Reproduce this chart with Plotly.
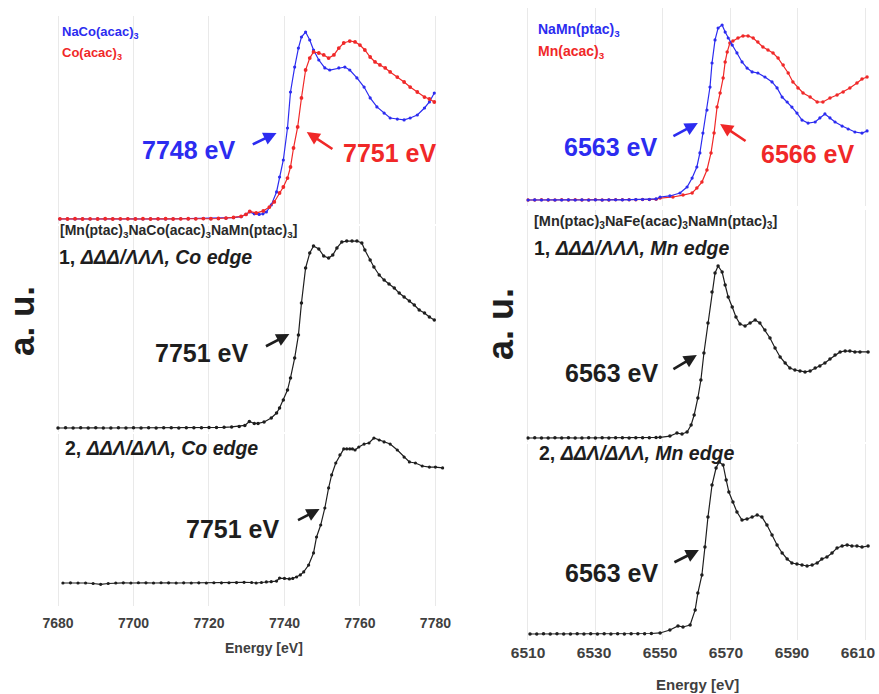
import plotly.graph_objects as go

FONT = "Liberation Sans, Arial, sans-serif"
BLUE = "#2c2cf0"
RED = "#f02828"
BLACK = "#1e1e1e"
GREY_TXT = "#404040"

# ---------------- Co K-edge (left column) ----------------
co_ticks = [7680, 7700, 7720, 7740, 7760, 7780]
mn_ticks = [6510, 6530, 6550, 6570, 6590, 6610]

naco_e = [7680.5, 7682.5, 7684.5, 7686.5, 7688.5, 7690.5, 7692.5, 7694.5, 7696.5, 7698.5,
          7700.5, 7702.5, 7704.5, 7706.5, 7708.5, 7710.5, 7712.5, 7714.5, 7716.5, 7718.5,
          7720.5, 7722.5, 7724.5, 7726.5, 7728.5, 7729.8, 7730.8, 7732.0, 7733.3, 7734.3,
          7735.2, 7736.5, 7737.9, 7738.7, 7739.7, 7740.8, 7741.6, 7742.7, 7743.7, 7744.5,
          7745.6, 7746.7, 7747.7, 7749.1, 7750.7, 7752.0, 7754.4, 7756.0, 7757.3, 7759.2,
          7761.1, 7762.7, 7764.5, 7766.4, 7768.0, 7769.9, 7771.7, 7773.3, 7775.2, 7777.1,
          7778.4, 7779.7]
naco_mu = [0.000, 0.002, 0.000, 0.001, 0.000, 0.002, 0.000, 0.001, 0.000, 0.002,
           0.001, 0.000, 0.002, 0.001, 0.000, 0.001, 0.002, 0.001, 0.002, 0.003,
           0.003, 0.004, 0.006, 0.010, 0.018, 0.035, 0.055, 0.040, 0.035, 0.040,
           0.054, 0.108, 0.208, 0.323, 0.454, 0.700, 0.977, 1.169, 1.315, 1.400,
           1.438, 1.377, 1.300, 1.223, 1.162, 1.146, 1.162, 1.169, 1.146, 1.085,
           1.015, 0.931, 0.862, 0.815, 0.777, 0.769, 0.762, 0.777, 0.800, 0.854,
           0.900, 0.969]

coacac_e = [7680.5, 7682.5, 7684.5, 7686.5, 7688.5, 7690.5, 7692.5, 7694.5, 7696.5, 7698.5,
            7700.5, 7702.5, 7704.5, 7706.5, 7708.5, 7710.5, 7712.5, 7714.5, 7716.5, 7718.5,
            7720.5, 7722.5, 7724.5, 7726.5, 7728.5, 7729.8, 7730.8, 7732.5, 7734.4, 7736.0,
            7737.3, 7738.7, 7739.7, 7740.8, 7741.6, 7742.4, 7743.5, 7744.5, 7745.6, 7746.7,
            7747.7, 7749.1, 7750.4, 7751.7, 7753.1, 7754.4, 7755.7, 7757.3, 7758.7, 7760.0,
            7761.3, 7762.7, 7764.0, 7765.3, 7766.7, 7768.0, 7769.9, 7771.7, 7773.3, 7775.2,
            7777.1, 7778.4, 7779.7]
coacac_mu = [0.001, 0.000, 0.002, 0.000, 0.001, 0.000, 0.002, 0.000, 0.001, 0.001,
             0.000, 0.002, 0.000, 0.001, 0.002, 0.000, 0.001, 0.002, 0.001, 0.003,
             0.002, 0.004, 0.007, 0.012, 0.020, 0.035, 0.058, 0.046, 0.062, 0.092,
             0.131, 0.200, 0.246, 0.315, 0.400, 0.546, 0.708, 0.931, 1.146, 1.238,
             1.285, 1.277, 1.262, 1.238, 1.262, 1.315, 1.354, 1.369, 1.362, 1.338,
             1.300, 1.246, 1.208, 1.185, 1.162, 1.131, 1.092, 1.054, 1.015, 0.977,
             0.938, 0.923, 0.900]

co1_e = [7680.0, 7682.0, 7684.0, 7686.0, 7688.0, 7690.0, 7692.0, 7694.0, 7696.0, 7698.0,
         7700.0, 7702.0, 7704.0, 7706.0, 7708.0, 7710.0, 7712.0, 7714.0, 7716.0, 7718.0,
         7720.0, 7722.0, 7724.0, 7726.0, 7728.0, 7729.5, 7730.7, 7732.0, 7733.0, 7734.6,
         7736.5, 7737.9, 7738.7, 7739.7, 7740.8, 7741.6, 7742.7, 7743.7, 7744.5, 7745.6,
         7746.7, 7747.7, 7749.1, 7750.4, 7751.7, 7752.8, 7753.9, 7755.2, 7756.5, 7757.9,
         7759.2, 7760.5, 7761.3, 7762.7, 7763.7, 7765.1, 7766.4, 7767.7, 7769.1, 7770.4,
         7771.7, 7773.1, 7774.4, 7775.7, 7777.1, 7778.4, 7779.7]
co1_mu = [0.000, 0.001, 0.000, 0.001, 0.000, 0.001, 0.000, 0.000, 0.001, 0.000,
          0.001, 0.000, 0.001, 0.000, 0.001, 0.001, 0.000, 0.001, 0.002, 0.002,
          0.003, 0.004, 0.005, 0.008, 0.012, 0.020, 0.050, 0.035, 0.035, 0.046,
          0.077, 0.115, 0.154, 0.215, 0.292, 0.385, 0.538, 0.715, 0.962, 1.231,
          1.346, 1.400, 1.377, 1.323, 1.308, 1.331, 1.385, 1.431, 1.438, 1.438,
          1.438, 1.423, 1.369, 1.292, 1.238, 1.177, 1.138, 1.108, 1.077, 1.038,
          1.008, 0.977, 0.946, 0.908, 0.885, 0.854, 0.831]

co2_e = [7681.3, 7683.3, 7685.3, 7687.3, 7689.3, 7691.3, 7693.3, 7695.3, 7697.3, 7699.3,
         7701.3, 7703.3, 7705.3, 7707.3, 7709.3, 7711.3, 7713.3, 7715.3, 7717.3, 7719.3,
         7721.3, 7723.3, 7725.3, 7727.3, 7729.3, 7731.3, 7732.5, 7733.9, 7735.2, 7736.5,
         7737.9, 7738.7, 7740.0, 7741.3, 7742.2, 7743.2, 7744.2, 7745.1, 7746.4, 7747.7,
         7748.5, 7749.6, 7750.7, 7751.7, 7752.5, 7753.6, 7754.7, 7755.7, 7756.5, 7757.3,
         7758.0, 7758.7, 7759.7, 7761.1, 7762.4, 7763.7, 7765.1, 7766.4, 7768.0, 7769.9,
         7771.7, 7773.1, 7774.7, 7776.5, 7778.4, 7780.0, 7781.9]
co2_mu = [0.000, 0.001, 0.000, 0.000, -0.004, -0.010, -0.004, 0.000, 0.001, 0.000,
          0.002, 0.001, 0.000, 0.002, 0.001, 0.000, 0.001, 0.000, 0.001, 0.000,
          0.002, 0.001, 0.002, 0.003, 0.005, 0.004, 0.000, 0.004, 0.008, 0.010,
          0.015, 0.038, 0.035, 0.031, 0.035, 0.046, 0.062, 0.085, 0.138, 0.231,
          0.354, 0.446, 0.577, 0.731, 0.831, 0.923, 0.985, 1.031, 1.031, 1.031,
          1.031, 1.023, 1.046, 1.069, 1.077, 1.115, 1.100, 1.085, 1.069, 1.023,
          0.969, 0.931, 0.923, 0.900, 0.892, 0.892, 0.885]

# ---------------- Mn K-edge (right column) ----------------
namn_e = [6510.0, 6512.0, 6514.0, 6516.0, 6518.0, 6520.0, 6522.0, 6524.0, 6526.0, 6528.0,
          6530.0, 6532.0, 6534.0, 6536.0, 6538.0, 6540.0, 6542.0, 6544.0, 6546.0, 6548.0,
          6549.2, 6552.1, 6555.1, 6557.2, 6558.7, 6560.1, 6561.0, 6561.9, 6563.1, 6564.0,
          6564.6, 6565.5, 6566.4, 6567.6, 6568.5, 6569.4, 6570.6, 6572.0, 6573.5, 6575.0,
          6576.5, 6578.2, 6580.3, 6582.4, 6583.9, 6585.4, 6586.9, 6588.3, 6589.8, 6591.3,
          6593.1, 6595.2, 6596.6, 6598.1, 6599.6, 6601.1, 6603.2, 6605.0, 6607.0, 6609.1,
          6610.6]
namn_mu = [0.000, 0.001, 0.000, 0.001, 0.000, 0.000, 0.001, 0.000, 0.001, 0.000,
           0.001, 0.000, 0.001, 0.002, 0.001, 0.002, 0.003, 0.004, 0.004, 0.008,
           0.023, 0.031, 0.054, 0.100, 0.169, 0.254, 0.362, 0.515, 0.692, 0.869,
           1.054, 1.231, 1.323, 1.346, 1.292, 1.246, 1.192, 1.131, 1.062, 1.015,
           0.985, 0.977, 0.946, 0.908, 0.862, 0.792, 0.754, 0.715, 0.669, 0.615,
           0.592, 0.600, 0.631, 0.662, 0.631, 0.600, 0.569, 0.546, 0.523, 0.515,
           0.531]

mnacac_e = [6510.0, 6512.0, 6514.0, 6516.0, 6518.0, 6520.0, 6522.0, 6524.0, 6526.0, 6528.0,
            6530.0, 6532.0, 6534.0, 6536.0, 6538.0, 6540.0, 6542.0, 6544.0, 6546.0, 6548.0,
            6549.2, 6553.0, 6556.0, 6558.7, 6560.1, 6561.6, 6563.1, 6564.3, 6565.2, 6566.1,
            6567.0, 6567.9, 6568.5, 6569.1, 6569.9, 6570.8, 6572.3, 6573.8, 6575.3, 6576.8,
            6578.2, 6579.7, 6581.2, 6582.7, 6584.2, 6585.7, 6587.2, 6588.6, 6590.1, 6591.6,
            6593.7, 6595.8, 6597.5, 6599.6, 6601.7, 6603.5, 6605.5, 6607.6, 6609.1, 6610.6]
mnacac_mu = [0.000, 0.000, 0.001, 0.000, 0.000, 0.001, 0.000, 0.001, 0.000, 0.000,
             0.001, 0.000, 0.000, 0.001, 0.001, 0.002, 0.002, 0.003, 0.004, 0.005,
             0.015, 0.023, 0.038, 0.054, 0.092, 0.138, 0.231, 0.362, 0.515, 0.715,
             0.823, 0.938, 1.062, 1.138, 1.208, 1.223, 1.246, 1.262, 1.262, 1.246,
             1.215, 1.177, 1.154, 1.131, 1.092, 1.038, 0.977, 0.908, 0.862, 0.823,
             0.792, 0.754, 0.754, 0.785, 0.808, 0.831, 0.862, 0.900, 0.931, 0.946]

mn1_e = [6510.0, 6512.0, 6514.0, 6516.0, 6518.0, 6520.0, 6522.0, 6524.0, 6526.0, 6528.0,
         6530.0, 6532.0, 6534.0, 6536.0, 6538.0, 6540.0, 6542.0, 6544.0, 6546.0,
         6548.0, 6549.2, 6552.1, 6554.2, 6555.7, 6557.2, 6558.4, 6559.3, 6560.4, 6561.3,
         6562.2, 6563.4, 6564.6, 6565.5, 6566.4, 6567.6, 6568.5, 6569.4, 6570.6, 6571.7,
         6572.9, 6574.4, 6575.9, 6577.4, 6578.8, 6580.3, 6581.8, 6583.3, 6584.8, 6586.3,
         6587.7, 6589.2, 6590.7, 6592.2, 6593.7, 6595.2, 6596.6, 6598.1, 6599.6, 6601.1,
         6602.6, 6604.1, 6605.5, 6607.0, 6608.5, 6610.9]
mn1_mu = [0.000, 0.001, 0.000, 0.000, 0.001, 0.000, 0.001, 0.000, 0.000, 0.001,
          0.000, 0.001, 0.000, 0.001, 0.001, 0.000, 0.001, 0.002, 0.002,
          0.003, 0.005, 0.015, 0.038, 0.031, 0.046, 0.100, 0.177, 0.308, 0.446,
          0.654, 0.885, 1.123, 1.269, 1.323, 1.277, 1.177, 1.085, 1.008, 0.931,
          0.877, 0.862, 0.885, 0.908, 0.885, 0.831, 0.769, 0.692, 0.623, 0.577,
          0.538, 0.523, 0.515, 0.508, 0.515, 0.538, 0.554, 0.577, 0.608, 0.638,
          0.662, 0.669, 0.669, 0.662, 0.662, 0.662]

mn2_e = [6510.6, 6512.6, 6514.6, 6516.6, 6518.6, 6520.6, 6522.6, 6524.6, 6526.6, 6528.6,
         6530.6, 6532.6, 6534.6, 6536.6, 6538.6, 6540.6, 6542.6, 6544.6, 6546.6,
         6549.2, 6552.1, 6554.5, 6556.0, 6558.1, 6559.6, 6560.4, 6561.6, 6562.5, 6563.4,
         6564.6, 6565.8, 6566.7, 6567.9, 6568.8, 6569.6, 6570.8, 6572.0, 6573.5, 6575.0,
         6576.5, 6578.0, 6579.4, 6580.9, 6582.4, 6583.9, 6585.4, 6586.9, 6588.3, 6589.8,
         6591.3, 6592.8, 6594.3, 6595.8, 6597.2, 6598.7, 6600.2, 6601.7, 6603.2, 6604.7,
         6606.1, 6607.6, 6609.1, 6610.9]
mn2_mu = [0.000, 0.000, 0.001, 0.000, 0.001, 0.000, 0.000, 0.001, 0.000, 0.001,
          0.000, 0.001, 0.000, 0.001, 0.000, 0.001, 0.002, 0.002, 0.004,
          0.008, 0.031, 0.062, 0.054, 0.069, 0.185, 0.315, 0.454, 0.669, 0.900,
          1.146, 1.277, 1.323, 1.300, 1.185, 1.092, 1.015, 0.938, 0.877, 0.885,
          0.900, 0.915, 0.900, 0.838, 0.762, 0.685, 0.623, 0.577, 0.546, 0.538,
          0.531, 0.523, 0.531, 0.546, 0.577, 0.592, 0.623, 0.662, 0.677, 0.685,
          0.677, 0.677, 0.669, 0.677]

# ---------------- figure geometry ----------------
W, H = 879, 694
UNIT = 130.0  # pixels per unit of normalised absorption


def ydom(top_px, bot_px):
    return [1 - bot_px / H, 1 - top_px / H]


def yrange(base_px, top_px, bot_px):
    return [(base_px - bot_px) / UNIT, (base_px - top_px) / UNIT]


co_range = [7679.0, 7783.0]
co_xdom = [54.25 / W, 446.75 / W]
mn_range = [6509.5, 6611.5]
mn_xdom = [526.3 / W, 870.1 / W]
# the Mn energy labels sit on a slightly tighter scale than the grid
mn_label_range = [6509.485, 6613.67]

# (x-range, x-domain, ticks, top px, bottom px, baseline px, show tick labels)
panels = [
    (co_range, co_xdom, co_ticks, 16, 224, 219, False),
    (co_range, co_xdom, co_ticks, 226, 432, 428, False),
    (co_range, co_xdom, co_ticks, 434, 606, 583, True),
    (mn_range, mn_xdom, mn_ticks, 8, 206, 200, False),
    (mn_range, mn_xdom, mn_ticks, 210, 442, 438, False),
    (mn_range, mn_xdom, mn_ticks, 444, 640, 634, False),
]

fig = go.Figure()

series = [
    (1, naco_e, naco_mu, BLUE, 3.2),
    (1, coacac_e, coacac_mu, RED, 3.8),
    (2, co1_e, co1_mu, BLACK, 3.5),
    (3, co2_e, co2_mu, BLACK, 3.2),
    (4, mnacac_e, mnacac_mu, RED, 3.5),
    (4, namn_e, namn_mu, BLUE, 3.2),
    (5, mn1_e, mn1_mu, BLACK, 3.5),
    (6, mn2_e, mn2_mu, BLACK, 3.5),
]
for idx, xs, ys, col, ms in series:
    sfx = "" if idx == 1 else str(idx)
    fig.add_trace(go.Scatter(
        x=xs, y=ys, mode="lines+markers",
        line=dict(color=col, width=1.2),
        marker=dict(color=col, size=ms),
        xaxis="x" + sfx, yaxis="y" + sfx,
        hoverinfo="x+y", showlegend=False,
    ))

# empty trace that registers the Mn label axis on the bottom-right panel
fig.add_trace(go.Scatter(x=[], y=[], xaxis="x7", yaxis="y6",
                         hoverinfo="skip", showlegend=False))

layout_axes = {}
for i, (xr, xd, tv, top, bot, base, show) in enumerate(panels, start=1):
    sfx = "" if i == 1 else str(i)
    layout_axes["xaxis" + sfx] = dict(
        domain=xd, range=xr, anchor="y" + sfx,
        tickvals=tv, showticklabels=show, ticks="",
        showgrid=True, gridcolor="#e9e9e9", gridwidth=1,
        zeroline=False, showline=False, automargin=False,
        ticklabelstandoff=7,
        tickfont=dict(family=FONT, size=14, color=GREY_TXT, weight="bold"),
    )
    layout_axes["yaxis" + sfx] = dict(
        domain=ydom(top, bot), range=yrange(base, top, bot), anchor="x" + sfx,
        showgrid=False, showticklabels=False, zeroline=False, showline=False,
        ticks="", automargin=False,
    )

# energy labels under the Mn column
layout_axes["xaxis7"] = dict(
    overlaying="x6", anchor="y6", domain=mn_xdom, range=mn_label_range,
    tickvals=mn_ticks, ticks="", showgrid=False, zeroline=False, showline=False,
    automargin=False, ticklabelstandoff=1, side="bottom",
    tickfont=dict(family=FONT, size=15.5, color=GREY_TXT, weight="bold"),
)

fig.update_layout(
    width=W, height=H, autosize=False,
    margin=dict(l=0, r=0, t=0, b=0, pad=0, autoexpand=False),
    plot_bgcolor="white", paper_bgcolor="white",
    showlegend=False,
    font=dict(family=FONT),
    **layout_axes,
)


def paper_text(text, x_px, y_px, size, color, xanchor="left", angle=0):
    fig.add_annotation(
        text=text, x=x_px / W, y=1 - y_px / H, xref="paper", yref="paper",
        xanchor=xanchor, yanchor="middle", showarrow=False, textangle=angle,
        font=dict(family=FONT, size=size, color=color, weight="bold"),
    )


def arrow(panel, tail, head, color):
    sfx = "" if panel == 1 else str(panel)
    fig.add_annotation(
        x=head[0], y=head[1], ax=tail[0], ay=tail[1],
        xref="x" + sfx, yref="y" + sfx, axref="x" + sfx, ayref="y" + sfx,
        text="", showarrow=True, arrowhead=2, arrowsize=1.0,
        arrowwidth=2.6, arrowcolor=color,
    )


# sample names
paper_text("NaCo(acac)<sub>3</sub>", 60, 32, 13, BLUE)
paper_text("Co(acac)<sub>3</sub>", 60, 53, 13, RED)
paper_text("NaMn(ptac)<sub>3</sub>", 536, 30, 14, BLUE)
paper_text("Mn(acac)<sub>3</sub>", 536, 52, 14, RED)
paper_text("[Mn(ptac)<sub>3</sub>NaCo(acac)<sub>3</sub>NaMn(ptac)<sub>3</sub>]", 58, 231, 14, "#2a2a2a")
paper_text("[Mn(ptac)<sub>3</sub>NaFe(acac)<sub>3</sub>NaMn(ptac)<sub>3</sub>]", 532, 222, 14.5, "#2a2a2a")
paper_text("1, <i>ΔΔΔ/ΛΛΛ, Co edge</i>", 57, 257, 19.5, BLACK)
paper_text("2, <i>ΔΔΛ/ΔΛΛ, Co edge</i>", 63, 448, 19.5, BLACK)
paper_text("1, <i>ΔΔΔ/ΛΛΛ, Mn edge</i>", 532, 248, 19.5, BLACK)
paper_text("2, <i>ΔΔΛ/ΔΛΛ, Mn edge</i>", 537, 453, 19.5, BLACK)

# edge energies
paper_text("7748 eV", 188, 150, 25, BLUE, "center")
paper_text("7751 eV", 389, 153, 25, RED, "center")
paper_text("7751 eV", 201, 353, 25, BLACK, "center")
paper_text("7751 eV", 232, 529, 25, BLACK, "center")
paper_text("6563 eV", 610, 147, 25, BLUE, "center")
paper_text("6566 eV", 807, 154, 25, RED, "center")
paper_text("6563 eV", 611, 373, 25, BLACK, "center")
paper_text("6563 eV", 611, 573, 25, BLACK, "center")

arrow(1, (7731.2, 0.569), (7737.9, 0.662), BLUE)
arrow(1, (7753.1, 0.531), (7745.9, 0.669), RED)
arrow(2, (7734.7, 0.623), (7741.3, 0.723), BLACK)
arrow(3, (7743.2, 0.477), (7749.3, 0.569), BLACK)
arrow(4, (6552.7, 0.485), (6560.4, 0.592), BLUE)
arrow(4, (6575.0, 0.446), (6567.0, 0.585), RED)
arrow(5, (6552.7, 0.523), (6560.1, 0.638), BLACK)
arrow(6, (6553.0, 0.546), (6560.7, 0.646), BLACK)

# axis captions
paper_text("a. u.", 21, 321, 35, BLACK, "center", -90)
paper_text("a. u.", 500, 324, 36, BLACK, "center", -90)
paper_text("Energy [eV]", 264, 648, 14, GREY_TXT, "center")
paper_text("Energy [eV]", 697, 684, 15, GREY_TXT, "center")

fig.write_html("out.html")
